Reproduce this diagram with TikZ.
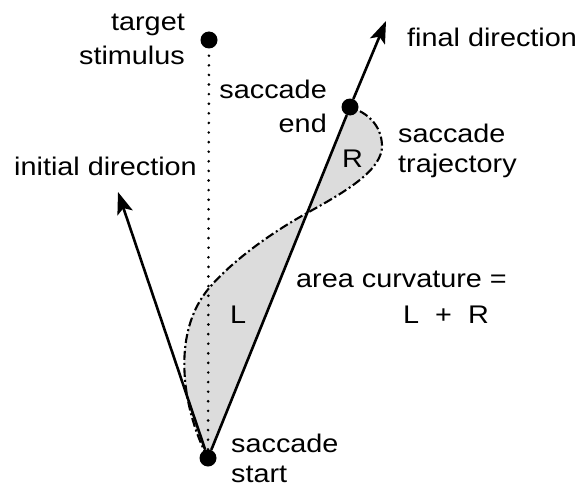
\documentclass[tikz,border=0pt]{standalone}
\usepackage{fontspec}
\setmainfont{Liberation Sans}[FakeStretch=1.13]
\usetikzlibrary{arrows.meta,backgrounds}

\begin{document}
\begin{tikzpicture}[
    x=1pt,
    y=-1pt,
    line cap=butt,
    line join=round,
    font=\fontsize{25.5}{34.5}\selectfont
]

\definecolor{AreaGray}{HTML}{DCDCDC}
\definecolor{InkBlack}{HTML}{000000}

\tikzset{
    eye dot/.style={
        circle,
        fill=InkBlack,
        draw=none,
        minimum size=17pt,
        inner sep=0pt
    },
    direction arrow/.style={
        draw=InkBlack,
        line width=2.6pt,
        -{Stealth[length=22pt,width=16pt,inset=5pt]}
    },
    chord line/.style={
        draw=InkBlack,
        line width=2.6pt
    },
    path line/.style={
        draw=InkBlack,
        line width=2.1pt,
        dash pattern=on 9pt off 3pt on 2pt off 3pt
    },
    goal line/.style={
        draw=InkBlack,
        line width=2.9pt,
        line cap=round,
        dash pattern=on 0pt off 9.6pt
    },
    label text/.style={
        inner sep=0pt,
        text=InkBlack
    },
    tight lines/.style={
        font=\fontsize{25.5}{30}\selectfont
    }
}

\useasboundingbox (0,0) rectangle (581,487);

\node[eye dot] (start) at (208,458) {};
\node[eye dot] (target) at (209,40) {};
\node[eye dot] (end) at (350,107) {};

\coordinate (finaltip) at (386,21);
\coordinate (initialtip) at (118,192);

\begin{scope}[on background layer]
    \fill[AreaGray] (start.center)
        .. controls (185,415) and (168,335) .. (210,287)
        .. controls (228,266) and (262,238) .. (307,213)
        .. controls (345,192) and (383,170) .. (382,145)
        .. controls (381,125) and (368,113) .. (end.center)
        -- cycle;
\end{scope}

\draw[path line] (start.center)
    .. controls (185,415) and (168,335) .. (210,287)
    .. controls (228,266) and (262,238) .. (307,213)
    .. controls (345,192) and (383,170) .. (382,145)
    .. controls (381,125) and (368,113) .. (end.center);

\draw[goal line] (start) -- (target);
\draw[chord line] (start) -- (end);
\draw[direction arrow] (end) -- (finaltip);
\draw[direction arrow] (start) -- (initialtip);

\node[label text, anchor=south east, align=right] (targetlabel) at (185,65) {target\\stimulus};
\node[label text, anchor=south east, align=right] (endlabel) at (327,133) {saccade\\end};
\node[label text, tight lines, anchor=north west, align=left] (pathlabel) at (398,124) {saccade\\trajectory};
\node[label text, tight lines, anchor=south west, align=left] (startlabel) at (231,483) {saccade\\start};
\node[label text, anchor=base west] (finallabel) at (407,47) {final direction};
\node[label text, anchor=base west] (initiallabel) at (14,175) {initial direction};
\node[label text, anchor=base west] (arealabel) at (296,287) {area curvature =};
\node[label text, anchor=base west] (sumlabel) at (403,323) {L \ + \ R};
\node[label text, anchor=base west] (leftlabel) at (230,323) {L};
\node[label text, anchor=base west] (rightlabel) at (342,167) {R};

\end{tikzpicture}
\end{document}
